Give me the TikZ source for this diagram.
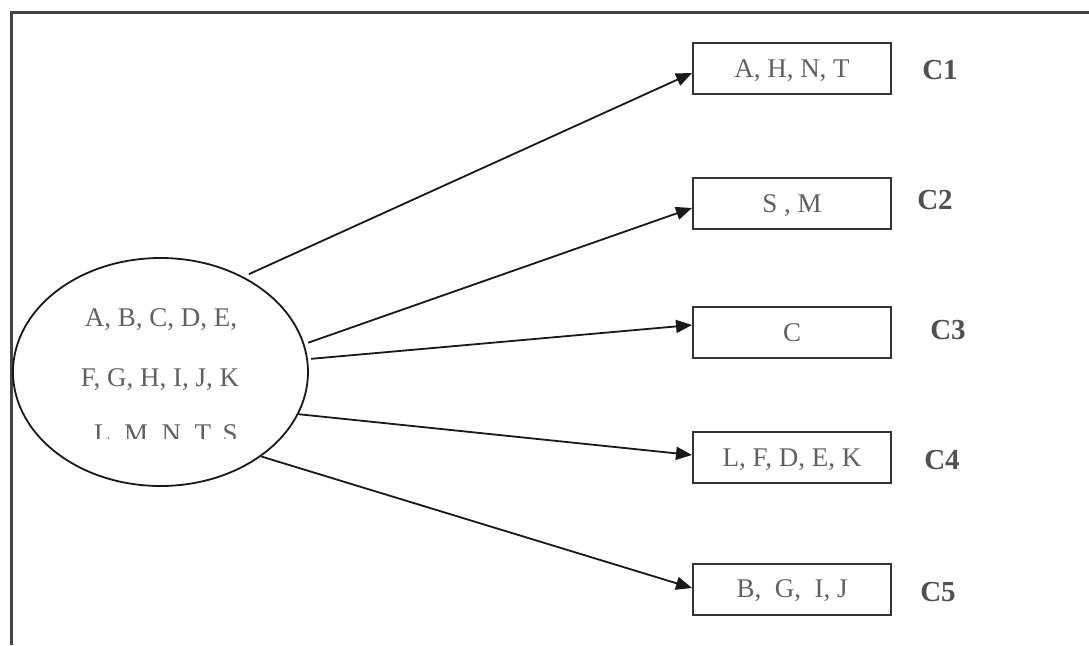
\documentclass[tikz,border=0pt]{standalone}
\usepackage{fontspec}
\setmainfont{Liberation Serif}
\usetikzlibrary{shapes.geometric,arrows.meta,calc}
\definecolor{txtgray}{HTML}{606060}
\definecolor{lblgray}{HTML}{505050}
\definecolor{framegray}{HTML}{444444}
\definecolor{boxgray}{HTML}{333333}
\begin{document}
\begin{tikzpicture}[x=1pt,y=-1pt,
  settxt/.style={font=\fontsize{27}{30}\selectfont, text=txtgray, inner sep=0pt, text height=17pt, text depth=0pt},
  setbox/.style={draw=boxgray, line width=2pt, minimum width=198pt, minimum height=51pt, inner sep=0pt,
    font=\fontsize{27}{30}\selectfont, text=txtgray, text height=17pt, text depth=0pt},
  clabel/.style={font=\fontsize{29}{32}\selectfont\bfseries, text=lblgray, inner sep=0pt, text height=19pt, text depth=0pt},
  conn/.style={draw=black!90, line width=1.8pt, -{Triangle[length=16pt,width=13pt]}}]
\useasboundingbox (0,0) rectangle (1089,645);
% frame (clipped at right and bottom)
\coordinate (ftl) at (11,12);
\coordinate (ftr) at (1089,12);
\coordinate (fbl) at (11,645);
\draw[framegray, line width=3pt] (fbl) -- (ftl) -- (ftr);
% source ellipse
\node[ellipse, draw=black!90, line width=1.8pt, minimum width=295pt, minimum height=228pt, inner sep=0pt] (e) at (160.5,372) {};
\node[settxt, anchor=base] (l1) at (161,326) {A, B, C, D, E,};
\node[settxt, anchor=base] (l2) at (160,386) {F, G, H, I, J, K};
\begin{scope}
\clip (40,400) rectangle (300,438);
\node[settxt, anchor=base] (l3) at (166,442) {L, M, N, T, S};
\end{scope}
% cluster boxes
\node[setbox] (c1) at (792,68.5) {A, H, N, T};
\node[setbox] (c2) at (792,203.5) {S , M};
\node[setbox] (c3) at (792,332.5) {C};
\node[setbox] (c4) at (792,457.5) {L, F, D, E, K};
\node[setbox] (c5) at (792,589) {B,\ \ G,\ \ I, J};
% labels
\node[clabel] (k1) at (940,70) {C1};
\node[clabel] (k2) at (935,200) {C2};
\node[clabel] (k3) at (948,330) {C3};
\node[clabel] (k4) at (942,460) {C4};
\node[clabel] (k5) at (938,592) {C5};
% connectors
\draw[conn, shorten <=6pt] (e.49) -- ($(c1.west)+(0,4.5)$);
\draw[conn, shorten <=4pt] (e.11) -- ($(c2.west)+(0,4.5)$);
\draw[conn, shorten <=3pt] (e.5.7) -- ($(c3.west)+(0,-7.5)$);
\draw[conn] (e.-17.2) -- ($(c4.west)+(0,-2.5)$);
\draw[conn] (e.-40.5) -- ($(c5.west)+(0,-1)$);
\end{tikzpicture}
\end{document}
